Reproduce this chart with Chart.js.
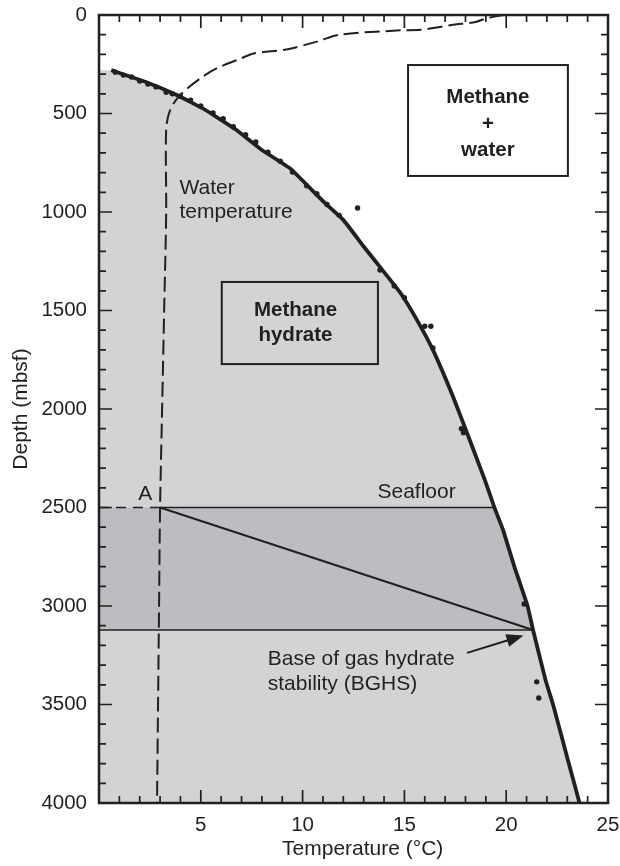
<!DOCTYPE html>
<html>
<head>
<meta charset="utf-8">
<script src="https://cdn.jsdelivr.net/npm/chart.js@4.4.1/dist/chart.umd.min.js"></script>
<style>
  html, body { margin: 0; padding: 0; background: #fff; }
  #wrap { width: 620px; height: 866px; }
</style>
</head>
<body>
<div id="wrap"><canvas id="chart" width="620" height="866"></canvas></div>
<script>
// hydrate stability boundary (temperature °C, depth mbsf)
const stabilityTemp  = [0.6, 2.3, 3.9, 5.2, 6.7, 8.0, 9.4, 11.0, 12.0, 13.0, 14.0, 14.8, 15.6, 16.4, 17.4, 18.2, 18.95, 19.42, 19.85, 20.4, 21.05, 21.32, 21.93, 22.3, 23.0, 23.6];
const stabilityDepth = [280, 340, 410, 480, 580, 685, 780, 945, 1040, 1175, 1305, 1410, 1545, 1700, 1940, 2155, 2360, 2500, 2615, 2800, 3000, 3122, 3375, 3500, 3770, 4000];

// measured points along the boundary
const pointTemp  = [0.8, 1.2, 1.6, 2.0, 2.4, 2.8, 3.3, 3.6, 4.0, 4.5, 5.0, 5.6, 6.1, 6.6, 7.2, 7.7, 8.3, 8.9, 9.5, 10.2, 10.7, 11.2, 11.8, 12.7, 13.8, 14.5, 15.0, 16.0, 16.3, 16.4, 17.8, 17.9, 20.88, 21.5, 21.6];
const pointDepth = [290, 305, 315, 335, 350, 365, 392, 400, 412, 432, 462, 497, 527, 567, 607, 645, 697, 742, 797, 867, 907, 962, 1017, 980, 1295, 1375, 1435, 1580, 1580, 1690, 2100, 2120, 2990, 3385, 3467];

// water temperature profile
const waterTemp  = [19.9, 19.1, 18.5, 17.4, 15.8, 14.8, 11.8, 10.7, 9.2, 7.6, 6.8, 5.8, 5.0, 4.0, 3.5, 3.3, 3.3, 3.2, 3.1, 3.0, 2.95, 2.9, 2.85];
const waterDepth = [0, 15, 35, 50, 75, 78, 100, 135, 175, 195, 228, 270, 320, 405, 480, 580, 1000, 1500, 2000, 2500, 3000, 3500, 4000];

const seafloorDepth = 2500;
const bghsDepth = 3122;
const pointA = [3.0, 2500];
const pointBGHS = [21.32, 3122];

const xTicks = [5, 10, 15, 20, 25];
const yTicks = [0, 500, 1000, 1500, 2000, 2500, 3000, 3500, 4000];

const ink = '#231f20';
const lightGray = '#d1d3d5';
const darkGray = '#bcbdc1';

const toPts = (xs, ys) => xs.map((x, i) => ({ x: x, y: ys[i] }));
const curve = toPts(stabilityTemp, stabilityDepth);

// polygons built from the boundary curve
const lightRegion = [{ x: 0, y: stabilityDepth[0] }, ...curve, { x: 0, y: 4000 }, { x: 0, y: stabilityDepth[0] }];
const bandCurve = curve.filter(p => p.y >= seafloorDepth && p.y <= bghsDepth);
const darkBand = [{ x: 0, y: seafloorDepth }, ...bandCurve, { x: 0, y: bghsDepth }, { x: 0, y: seafloorDepth }];

Chart.defaults.font.family = "'Liberation Sans', Arial, sans-serif";
Chart.defaults.color = ink;

const frameAndNotes = {
  id: 'frameAndNotes',
  afterDatasetsDraw(chart) {
    const { ctx, chartArea: a, scales: { x, y } } = chart;
    const px = v => x.getPixelForValue(v);
    const py = v => y.getPixelForValue(v);
    ctx.save();
    ctx.strokeStyle = ink;
    ctx.fillStyle = ink;

    // seafloor line: dashed in water, solid to the boundary
    ctx.lineWidth = 1.6;
    ctx.setLineDash([10, 7]);
    ctx.beginPath(); ctx.moveTo(a.left, py(seafloorDepth)); ctx.lineTo(px(pointA[0]), py(seafloorDepth)); ctx.stroke();
    ctx.setLineDash([]);
    ctx.beginPath(); ctx.moveTo(px(pointA[0]), py(seafloorDepth)); ctx.lineTo(px(19.42), py(seafloorDepth)); ctx.stroke();
    // BGHS line
    ctx.beginPath(); ctx.moveTo(a.left, py(bghsDepth)); ctx.lineTo(px(pointBGHS[0]), py(bghsDepth)); ctx.stroke();
    // geotherm A -> BGHS
    ctx.lineWidth = 2.2;
    ctx.beginPath(); ctx.moveTo(px(pointA[0]), py(pointA[1])); ctx.lineTo(px(pointBGHS[0]), py(pointBGHS[1])); ctx.stroke();

    // arrow to BGHS
    const x0 = px(18.08), y0 = py(3238), x1 = px(20.85), y1 = py(3150);
    const ang = Math.atan2(y1 - y0, x1 - x0);
    ctx.lineWidth = 2;
    ctx.beginPath(); ctx.moveTo(x0, y0); ctx.lineTo(x1 - 12 * Math.cos(ang), y1 - 12 * Math.sin(ang)); ctx.stroke();
    ctx.beginPath();
    ctx.moveTo(x1, y1);
    ctx.lineTo(x1 - 17 * Math.cos(ang) + 6.5 * Math.sin(ang), y1 - 17 * Math.sin(ang) - 6.5 * Math.cos(ang));
    ctx.lineTo(x1 - 17 * Math.cos(ang) - 6.5 * Math.sin(ang), y1 - 17 * Math.sin(ang) + 6.5 * Math.cos(ang));
    ctx.closePath(); ctx.fill();

    // boxes
    ctx.lineWidth = 2;
    ctx.strokeRect(px(15.18), py(254), px(23.03) - px(15.18), py(817) - py(254));
    ctx.strokeRect(px(6.03), py(1355), px(13.7) - px(6.03), py(1772) - py(1355));

    // labels
    ctx.textBaseline = 'middle';
    ctx.textAlign = 'center';
    ctx.font = "bold 20.5px 'Liberation Sans', Arial, sans-serif";
    ctx.fillText('Methane', px(19.1), py(418));
    ctx.fillText('+', px(19.1), py(553));
    ctx.fillText('water', px(19.1), py(685));
    ctx.fillText('Methane', px(9.65), py(1497));
    ctx.fillText('hydrate', px(9.65), py(1625));
    ctx.font = "21px 'Liberation Sans', Arial, sans-serif";
    ctx.textAlign = 'left';
    ctx.fillText('Water', px(3.95), py(878));
    ctx.fillText('temperature', px(3.95), py(1002));
    ctx.fillText('Base of gas hydrate', px(8.29), py(3272));
    ctx.fillText('stability (BGHS)', px(8.29), py(3398));
    ctx.textAlign = 'center';
    ctx.fillText('A', px(2.27), py(2432));
    ctx.fillText('Seafloor', px(15.6), py(2420));
    // x-axis title, sitting slightly right of the axis centre as in the source
    ctx.fillText('Temperature (°C)', px(12.95), 849);

    // inward ticks on all four sides
    ctx.lineWidth = 1.7;
    ctx.beginPath();
    for (let t = 1; t < 25; t++) {
      const len = t % 5 === 0 ? 13 : 7;
      const xp = px(t);
      ctx.moveTo(xp, a.bottom); ctx.lineTo(xp, a.bottom - len);
      ctx.moveTo(xp, a.top); ctx.lineTo(xp, a.top + len);
    }
    for (let d = 100; d < 4000; d += 100) {
      const len = d % 500 === 0 ? 13 : 7;
      const yp = py(d);
      ctx.moveTo(a.left, yp); ctx.lineTo(a.left + len, yp);
      ctx.moveTo(a.right, yp); ctx.lineTo(a.right - len, yp);
    }
    ctx.stroke();
    // frame
    ctx.lineWidth = 2.5;
    ctx.strokeRect(a.left, a.top, a.right - a.left, a.bottom - a.top);
    ctx.restore();
  }
};

new Chart(document.getElementById('chart'), {
  type: 'scatter',
  data: {
    datasets: [
      { label: 'Methane hydrate', data: lightRegion, showLine: true, fill: 'shape', backgroundColor: lightGray,
        borderWidth: 0, pointRadius: 0, tension: 0, order: 10 },
      { label: 'Seafloor to BGHS', data: darkBand, showLine: true, fill: 'shape', backgroundColor: darkGray,
        borderWidth: 0, pointRadius: 0, tension: 0, order: 9 },
      { label: 'Water temperature', data: toPts(waterTemp, waterDepth), showLine: true, borderColor: ink,
        borderWidth: 2, borderDash: [15, 6], pointRadius: 0, tension: 0.3, order: 2 },
      { label: 'Stability boundary', data: curve, showLine: true, borderColor: ink, borderWidth: 3.8,
        pointRadius: 0, tension: 0.1, order: 1 },
      { label: 'Measured', data: toPts(pointTemp, pointDepth), showLine: false, backgroundColor: ink,
        borderWidth: 0, pointRadius: 2.7, order: 0 }
    ]
  },
  options: {
    responsive: false,
    animation: false,
    layout: { padding: { top: 15, right: 12, left: 0, bottom: 0 } },
    plugins: { legend: { display: false }, tooltip: { enabled: false } },
    scales: {
      x: {
        type: 'linear', min: 0, max: 25,
        grid: { display: false, drawTicks: false },
        border: { display: false },
        afterBuildTicks: s => { s.ticks = xTicks.map(v => ({ value: v })); },
        ticks: { padding: 10, font: { size: 20.5 }, color: ink, maxRotation: 0, callback: v => String(v) },
        title: { display: false },
        afterFit: s => { s.height = 63; s.paddingLeft = 0; s.paddingRight = 0; }
      },
      y: {
        type: 'linear', min: 0, max: 4000, reverse: true,
        grid: { display: false, drawTicks: false },
        border: { display: false },
        afterBuildTicks: s => { s.ticks = yTicks.map(v => ({ value: v })); },
        ticks: { padding: 12, font: { size: 20.5 }, color: ink, callback: v => String(v) },
        title: { display: true, text: 'Depth (mbsf)', font: { size: 21 }, color: ink, padding: { top: 9, bottom: 0 } },
        afterFit: s => { s.width = 99; s.paddingTop = 0; s.paddingBottom = 0; }
      }
    }
  },
  plugins: [frameAndNotes]
});
</script>
</body>
</html>
